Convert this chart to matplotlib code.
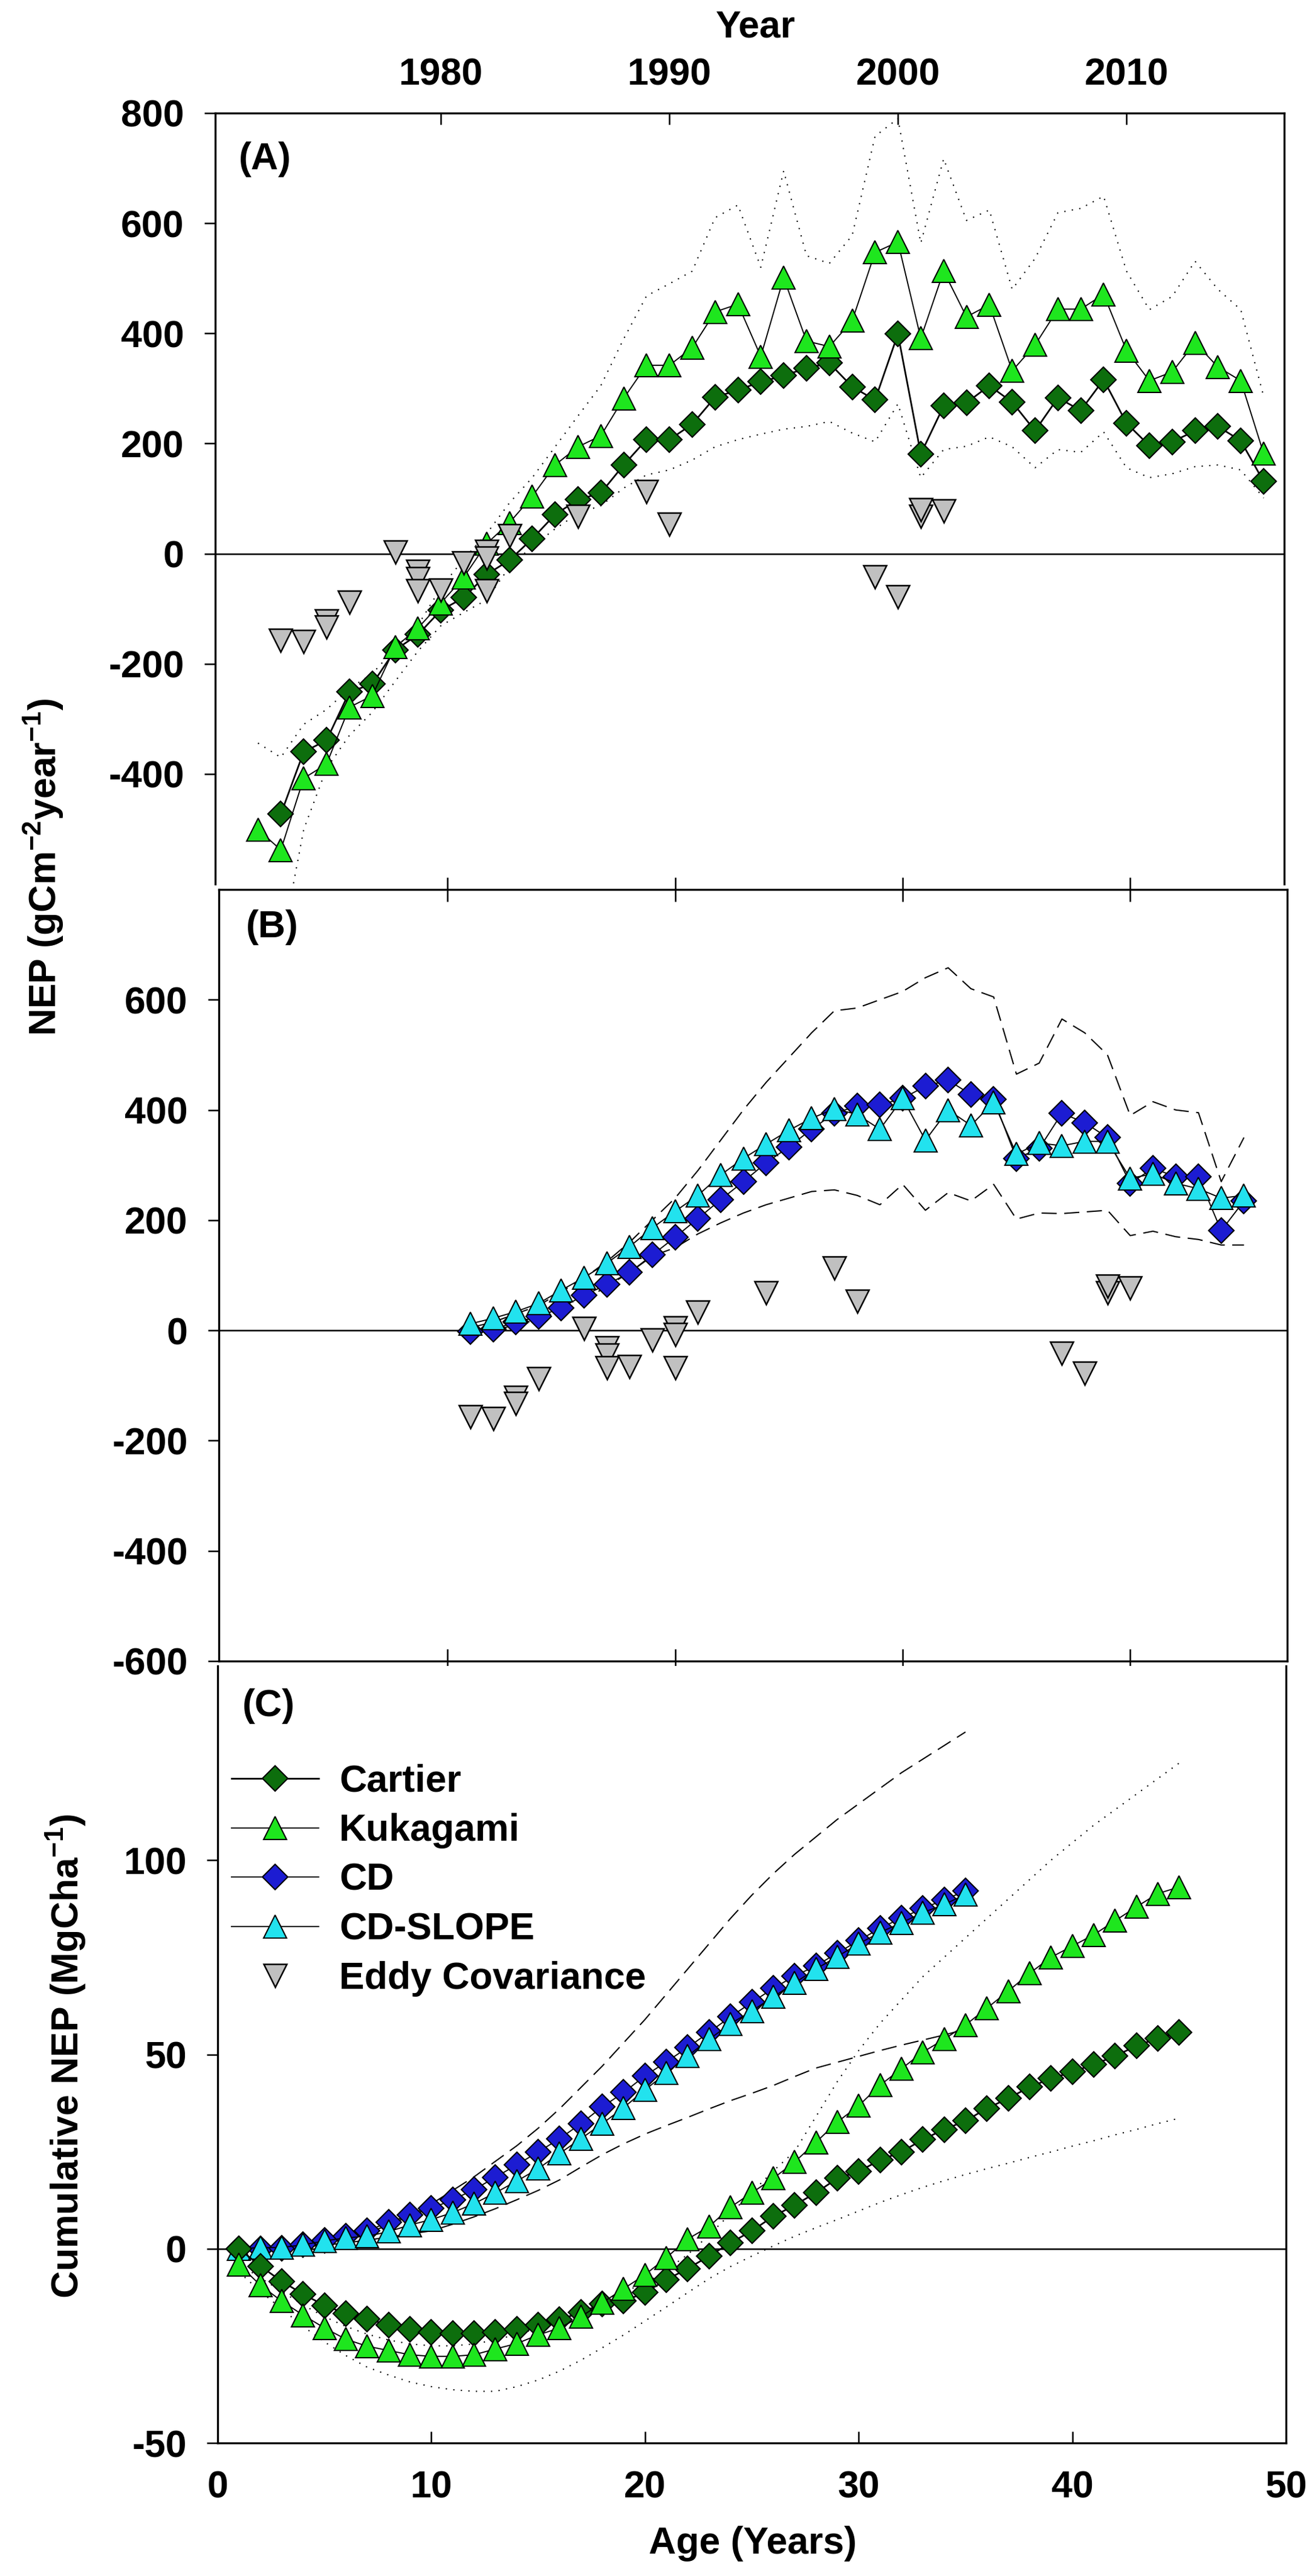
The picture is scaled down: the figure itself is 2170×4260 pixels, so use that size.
"""
NEP por sitio (A, B) y NEP acumulado por edad (C)
"""

import numpy as np
import matplotlib.pyplot as plt

plt.rcParams['font.family'] = ['Liberation Sans', 'DejaVu Sans']
plt.rcParams['font.weight'] = 'bold'
plt.rcParams['font.size'] = 45
plt.rcParams['axes.unicode_minus'] = False
plt.rcParams['mathtext.fontset'] = 'custom'
plt.rcParams['mathtext.rm'] = 'Liberation Sans:bold'
plt.rcParams['mathtext.bf'] = 'Liberation Sans:bold'
plt.rcParams['mathtext.default'] = 'rm'

# ---- datos panel A (anios) ----
cartier_years = np.arange(1973, 2017)
cartier_nep = [-473, -360, -339, -251, -237, -175, -147, -103, -80, -38,
               -12, 27, 71, 98, 110, 161, 207, 207, 235, 284,
               297, 312, 323, 337, 346, 303, 279, 399, 181, 268,
               274, 305, 275, 223, 283, 260, 316, 237, 196, 203,
               223, 231, 205, 131]

kuk_years = np.arange(1972, 2017)
kuk_nep = [-501, -538, -408, -382, -279, -258, -170, -135, -90, -43,
           18, 56, 104, 161, 194, 214, 282, 342, 342, 374,
           439, 453, 358, 501, 386, 376, 423, 547, 566, 391,
           513, 430, 452, 332, 379, 444, 444, 471, 369, 314,
           330, 383, 339, 314, 182]

a_upper_years = np.arange(1972, 2017)
a_upper = [-344, -370, -310, -283, -245, -218, -172, -130, -62, -10,
           36, 92, 138, 194, 250, 305, 390, 468, 490, 513,
           610, 633, 520, 695, 541, 527, 578, 758, 790, 564,
           717, 605, 624, 480, 536, 619, 627, 649, 513, 443,
           467, 531, 480, 443, 286]

a_lower_years = np.arange(1973, 2017)
a_lower = [-720, -501, -390, -330, -288, -232, -177, -131, -107,
           -84, -24, 13, 45, 73, 87, 119, 143, 152, 170,
           194, 207, 217, 226, 231, 240, 219, 203, 272, 138,
           189, 195, 212, 194, 156, 189, 184, 221, 156, 138,
           145, 158, 161, 152, 101]

# eddy covariance por edad del rodal
ec_age = [1, 2, 3, 3, 4, 6, 7, 7, 7, 8, 9, 10, 10, 10, 11, 14, 17, 18,
          27, 28, 29, 29, 30]
ec_nep = [-157, -160, -122, -133, -88, 3, -32, -45, -68, -66, -17, 4, -8,
          -68, 33, 68, 113, 53, -42, -78, 68, 80, 77]
ec_year0_a = 1972
ec_year0_b = 1980

# ---- datos panel B ----
cd_years = np.arange(1981, 2016)
cd_nep = [-2, 2, 15, 25, 41, 64, 83, 105, 137, 169,
          203, 237, 270, 304, 333, 365, 394, 407, 409, 421,
          443, 454, 428, 419, 312, 330, 394, 377, 350, 267,
          294, 279, 279, 181, 235]
slope_nep = [12, 22, 34, 49, 73, 96, 122, 152, 186, 216,
             245, 282, 312, 338, 363, 385, 402, 392, 365, 421,
             345, 400, 372, 414, 320, 340, 335, 343, 343, 276,
             284, 267, 257, 240, 245]
b_upper = [5, 15, 30, 45, 70, 95, 125, 160, 200, 240,
           290, 345, 400, 450, 495, 540, 580, 585, 600, 615,
           640, 658, 620, 605, 465, 485, 565, 540, 500, 390,
           415, 400, 395, 270, 350]
b_lower = [-5, 0, 10, 20, 35, 55, 80, 105, 135, 150,
           175, 195, 213, 228, 240, 252, 255, 245, 228, 265,
           218, 250, 235, 265, 202, 213, 212, 215, 218, 172,
           180, 170, 165, 155, 155]

# ---- datos panel C (edad) ----
age45 = np.arange(1, 46)
age35 = np.arange(1, 36)
cartier_cum = [0, -4.5, -8.4, -11.7, -14.6, -16.7, -18.1, -19.6, -20.7, -21.5,
               -21.9, -21.9, -21.5, -20.7, -19.6, -18.3, -16.4, -14.2, -13.5, -11.3,
               -8.0, -5.1, -1.9, 1.5, 4.6, 8.3, 11.2, 14.4, 18.1, 19.9,
               22.8, 24.9, 28.1, 30.7, 32.9, 36.1, 38.7, 41.6, 43.8, 45.5,
               47.4, 49.6, 52.2, 54.2, 55.7]
kuk_cum = [-4.1, -9.4, -13.5, -17.1, -20.4, -23.3, -25.1, -26.2, -27.3, -27.7,
           -27.7, -27.3, -25.8, -24.4, -22.2, -20.4, -17.5, -13.9, -10.3, -6.7,
           -2.3, 2.5, 5.7, 10.7, 14.4, 18.1, 22.3, 27.4, 32.6, 36.8,
           42.1, 46.3, 50.6, 53.9, 57.6, 61.9, 66.3, 70.9, 75.0, 77.9,
           80.8, 84.4, 88.0, 91.4, 93.1]
cd_cum = [0, 0, 0.1, 1.0, 2.2, 3.2, 4.6, 6.8, 8.6, 10.4,
          12.6, 15.2, 18.4, 21.6, 24.9, 28.3, 32.2, 36.5, 40.2, 44.5,
          48.1, 51.8, 55.7, 59.7, 63.4, 67.0, 70.2, 72.8, 76.1, 79.3,
          82.5, 85.1, 87.6, 89.8, 92.1]
slope_cum = [0, 0.3, 0.3, 1.0, 2.0, 2.8, 3.2, 4.4, 6.1, 7.5,
             9.3, 11.6, 14.4, 17.4, 20.6, 24.5, 28.3, 32.2, 36.3, 40.9,
             45.2, 49.6, 53.9, 57.9, 61.2, 64.8, 68.4, 72.0, 75.2, 78.5,
             81.4, 83.9, 86.5, 88.6, 91.2]
c_dash_up = [0, 0.2, 0.5, 1, 1.8, 2.8, 4.2, 6, 8.5, 11.5,
             15, 18.5, 22.5, 26.5, 31, 36, 41.5, 47, 53, 59,
             65.5, 72, 78.5, 85, 91, 96.5, 101.5, 106, 110.5, 114.5,
             118.5, 122.5, 126, 129.5, 133]
c_dash_lo = [0, 0, 0.2, 0.5, 0.9, 1.5, 2.2, 3, 3.8, 4.6,
             6.3, 8.2, 10.3, 12.6, 15, 17.7, 21, 24.2, 27, 29.5,
             31.7, 33.8, 36, 38.1, 40, 42, 44.3, 46.5, 48, 49.5,
             51, 52.4, 53.7, 55, 56.5]
c_dot_up = [-4, -7.5, -11, -14.5, -17.5, -20, -22, -23.5, -24.5, -25,
            -25, -24.5, -23.5, -22, -20.5, -18.5, -16, -13.5, -11, -9,
            -5.5, -1.5, 3.5, 9, 14.5, 20, 25, 34, 43, 51,
            58, 64, 70, 75, 80, 85, 90, 95, 100, 104.5,
            109, 113, 117, 121, 125]
c_dot_lo = [-6, -11, -15.5, -20, -24, -27.5, -30.5, -32.5, -34.3, -35.5,
            -36.3, -36.7, -36.7, -35.5, -33.8, -31.5, -28.7, -25.5, -22.2, -18.6,
            -15, -11.3, -7.7, -4.6, -1.9, 0.7, 3.2, 5.4, 7.5, 9.7,
            11.9, 13.9, 15.8, 17.5, 19.1, 20.6, 22, 23.5, 24.9, 26.4,
            27.8, 29.3, 30.7, 32.2, 33.6]

# estilos
C_CART = '#0d6e0d'
C_KUK = '#1ee61e'
C_CD = '#1c1cd2'
C_SLOPE = '#22e2ee'
C_EC = '#c0c0c0'
DOT = (0, (1, 5))
DASH = (0, (12, 6))

cart_kw = dict(marker='D', ms=21, mfc=C_CART, mec='black', mew=1.5, color='black', lw=2.0)
kuk_kw = dict(marker='^', ms=27, mfc=C_KUK, mec='black', mew=1.5, color='black', lw=1.4)
cd_kw = dict(marker='D', ms=21, mfc=C_CD, mec='black', mew=1.5, color='black', lw=1.4)
slope_kw = dict(marker='^', ms=27, mfc=C_SLOPE, mec='black', mew=1.5, color='black', lw=1.4)
ec_kw = dict(marker='v', ms=28, mfc=C_EC, mec='black', mew=1.8, ls='none')

W, H = 2170, 4260
fig = plt.figure(figsize=(W / 100, H / 100), dpi=100)
axa = fig.add_axes([356 / W, 1 - 1462 / H, 1768 / W, 1275 / H])
axb = fig.add_axes([362 / W, 1 - 2747 / H, 1767 / W, 1276 / H])
axc = fig.add_axes([360 / W, 1 - 4040 / H, 1767 / W, 1285 / H])

for ax in (axa, axb, axc):
    for s in ax.spines.values():
        s.set_linewidth(2.4)
    ax.axhline(0, color='black', lw=1.8, zorder=1)
    ax.tick_params(axis='y', direction='out', length=13, width=1.8, pad=24,
                   right=False)

# ---- panel A ----
axa.plot(a_upper_years, a_upper, color='black', lw=1.5, ls=DOT, zorder=2)
axa.plot(a_lower_years, a_lower, color='black', lw=1.5, ls=DOT, zorder=2)
axa.plot(cartier_years, cartier_nep, zorder=3, **cart_kw)
axa.plot(kuk_years, kuk_nep, zorder=4, **kuk_kw)
h_ec, = axa.plot(np.array(ec_age) + ec_year0_a, ec_nep, zorder=5, **ec_kw)
axa.set_xlim(1970.13, 2016.9)
axa.set_ylim(-600, 800)
axa.set_yticks([-400, -200, 0, 200, 400, 600, 800])
axa.set_xticks([1980, 1990, 2000, 2010])
axa.tick_params(axis='x', direction='in', length=14, width=1.8, pad=24,
                top=True, bottom=False, labeltop=True, labelbottom=False)
axa.spines['bottom'].set_visible(False)
axa.text(0.022, 0.94, '(A)', transform=axa.transAxes, ha='left', va='center')

# ---- panel B ----
axb.plot(cd_years, b_upper, color='black', lw=1.5, ls=DASH, zorder=2)
axb.plot(cd_years, b_lower, color='black', lw=1.5, ls=DASH, zorder=2)
axb.plot(cd_years, cd_nep, zorder=3, **cd_kw)
axb.plot(cd_years, slope_nep, zorder=4, **slope_kw)
axb.plot(np.array(ec_age) + ec_year0_b, ec_nep, zorder=5, **ec_kw)
axb.set_xlim(1969.95, 2016.9)
axb.set_ylim(-600, 800)
axb.set_yticks([-600, -400, -200, 0, 200, 400, 600])
axb.set_xticks([1980, 1990, 2000, 2010])
axb.tick_params(axis='x', direction='inout', length=29, width=1.8,
                top=True, bottom=True, labelbottom=False, labeltop=False)
axb.text(0.0255, 0.951, '(B)', transform=axb.transAxes, ha='left', va='center')

# ---- panel C ----
axc.plot(age35, c_dash_up, color='black', lw=1.5, ls=DASH, zorder=2)
axc.plot(age35, c_dash_lo, color='black', lw=1.5, ls=DASH, zorder=2)
axc.plot(age45, c_dot_up, color='black', lw=1.5, ls=DOT, zorder=2)
axc.plot(age45, c_dot_lo, color='black', lw=1.5, ls=DOT, zorder=2)
h_cd, = axc.plot(age35, cd_cum, zorder=3, **cd_kw)
h_slope, = axc.plot(age35, slope_cum, zorder=4, **slope_kw)
h_cart, = axc.plot(age45, cartier_cum, zorder=5, **cart_kw)
h_kuk, = axc.plot(age45, kuk_cum, zorder=6, **kuk_kw)
axc.set_xlim(0, 50)
axc.set_ylim(-50, 150)
axc.set_yticks([-50, 0, 50, 100])
axc.set_xticks([0, 10, 20, 30, 40, 50])
axc.tick_params(axis='x', direction='in', length=14, width=1.8, pad=32,
                top=False, bottom=True)
axc.spines['top'].set_visible(False)
axc.text(0.023, 0.948, '(C)', transform=axc.transAxes, ha='left', va='center')

axc.legend([h_cart, h_kuk, h_cd, h_slope, h_ec],
           ['Cartier', 'Kukagami', 'CD', 'CD-SLOPE', 'Eddy Covariance'],
           loc='upper left', bbox_to_anchor=(0.013, 0.874), frameon=False,
           handlelength=2.3, handletextpad=0.55, labelspacing=0.36,
           borderpad=0, borderaxespad=0, fontsize=45)

# textos de ejes
fig.text(1250 / W, 1 - 45 / H, 'Year', ha='center', va='center')
fig.text(72 / W, 1 - 1434 / H, r'NEP (gCm$^{-2}$year$^{-1}$)',
         rotation=90, ha='center', va='center')
fig.text(109 / W, 1 - 3400 / H, r'Cumulative NEP (MgCha$^{-1}$)',
         rotation=90, ha='center', va='center')
fig.text(1245 / W, 1 - 4206 / H, 'Age (Years)', ha='center', va='center')

fig.savefig('out.png', dpi=100)
plt.close(fig)
